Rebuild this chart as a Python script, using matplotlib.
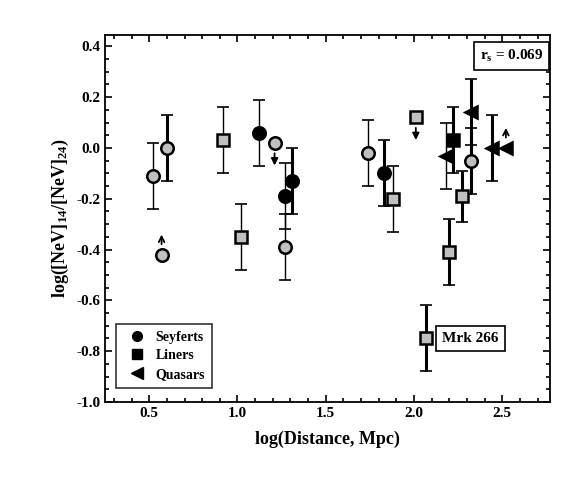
import numpy as np
import matplotlib
matplotlib.use("Agg")
import matplotlib.pyplot as plt
from matplotlib.lines import Line2D

plt.rcParams['font.family'] = ['Liberation Serif', 'DejaVu Serif']
plt.rcParams['font.weight'] = 'bold'
plt.rcParams['mathtext.fontset'] = 'custom'
plt.rcParams['mathtext.rm'] = 'Liberation Serif:bold'
plt.rcParams['mathtext.default'] = 'rm'

# kind: o=Seyfert, s=Liner, <=Quasar
xs    = [0.52, 0.60, 0.57, 0.92, 1.02, 1.12, 1.21, 1.27, 1.31, 1.27, 1.74, 1.83, 1.88, 2.01, 2.18, 2.22, 2.32, 2.32, 2.27, 2.20, 2.07, 2.44, 2.52]
ys    = [-0.11, 0.00, -0.42, 0.03, -0.35, 0.06, 0.02, -0.19, -0.13, -0.39, -0.02, -0.10, -0.20, 0.12, -0.03, 0.03, 0.14, -0.05, -0.19, -0.41, -0.75, 0.00, 0.00]
errs  = [0.13, 0.13, 0, 0.13, 0.13, 0.13, 0, 0.13, 0.13, 0.13, 0.13, 0.13, 0.13, 0, 0.13, 0.13, 0.13, 0.13, 0.10, 0.13, 0.13, 0.13, 0]
kinds = ['o', 'o', 'o', 's', 's', 'o', 'o', 'o', 'o', 'o', 'o', 'o', 's', 's', '<', 's', '<', 'o', 's', 's', 's', '<', '<']
fills = ['g', 'g', 'g', 'g', 'g', 'k', 'g', 'k', 'k', 'g', 'g', 'k', 'g', 'g', 'k', 'k', 'k', 'g', 'g', 'g', 'g', 'k', 'k']
limit = ['', '', 'up', '', '', '', 'down', '', '', '', '', '', '', 'down', '', '', '', '', '', '', '', '', 'up']
thick = [0, 1, 0, 0, 0, 0, 0, 0, 1, 0, 0, 1, 0, 0, 0, 1, 1, 1, 1, 1, 1, 1, 0]
ytick_vals = [-1.0, -0.8, -0.6, -0.4, -0.2, 0.0, 0.2, 0.4]

fig = plt.figure(figsize=(5.87, 4.92), dpi=100)
ax = fig.add_axes([0.179, 0.183, 0.758, 0.746])

for x, y, e, k, f, l, t in zip(xs, ys, errs, kinds, fills, limit, thick):
    lw = 2.2 if t else 1.0
    if e > 0:
        ax.errorbar(x, y, yerr=e, fmt='none', ecolor='black', elinewidth=lw,
                    capsize=4, capthick=1.2, zorder=2)
    fc = '#c0c0c0' if f == 'g' else 'black'
    ax.plot(x, y, marker=k, ms=9 if k != 's' else 8, mfc=fc, mec='black', mew=1.8,
            ls='none', zorder=3)
    if l == 'up':
        ax.annotate('', xy=(x, y + 0.09), xytext=(x, y + 0.03),
                    arrowprops=dict(arrowstyle='->', lw=1.3, color='black'))
    elif l == 'down':
        ax.annotate('', xy=(x, y - 0.10), xytext=(x, y - 0.03),
                    arrowprops=dict(arrowstyle='-|>', lw=1.3, color='black', mutation_scale=10))

ax.set_xlim(0.25, 2.77)
ax.set_ylim(-1.0, 0.445)
ax.set_xticks([0.5, 1.0, 1.5, 2.0, 2.5])
ax.set_yticks(ytick_vals)
ax.set_yticklabels(['%.1f' % v for v in ytick_vals])
ax.minorticks_on()
ax.tick_params(which='both', direction='in', top=True, right=True, width=1.2)
ax.tick_params(which='major', length=5, labelsize=11)
ax.tick_params(which='minor', length=3)
for s in ax.spines.values():
    s.set_linewidth(1.3)

ax.set_xlabel('log(Distance, Mpc)', fontsize=13, fontweight='bold', labelpad=8)
ax.set_ylabel(r'log([NeV]$_{14}$/[NeV]$_{24}$)', fontsize=13, fontweight='bold')

ax.text(0.985, 0.965, r'r$_{s}$ = 0.069', transform=ax.transAxes, ha='right', va='top',
        fontsize=11, fontweight='bold',
        bbox=dict(boxstyle='square,pad=0.4', fc='white', ec='black', lw=1.2))
ax.text(2.16, -0.75, 'Mrk 266', ha='left', va='center', fontsize=11, fontweight='bold',
        bbox=dict(boxstyle='square,pad=0.4', fc='white', ec='black', lw=1.2))

handles = [Line2D([], [], marker='o', color='black', ls='none', ms=7),
           Line2D([], [], marker='s', color='black', ls='none', ms=7),
           Line2D([], [], marker='<', color='black', ls='none', ms=8)]
leg = ax.legend(handles, ['Seyferts', 'Liners', 'Quasars'], loc='lower left',
                bbox_to_anchor=(0.01, 0.02), fancybox=False, edgecolor='black',
                fontsize=10, handletextpad=0.3, borderpad=0.5, labelspacing=0.4)
leg.get_frame().set_linewidth(1.2)

fig.savefig('out.png', dpi=100)
